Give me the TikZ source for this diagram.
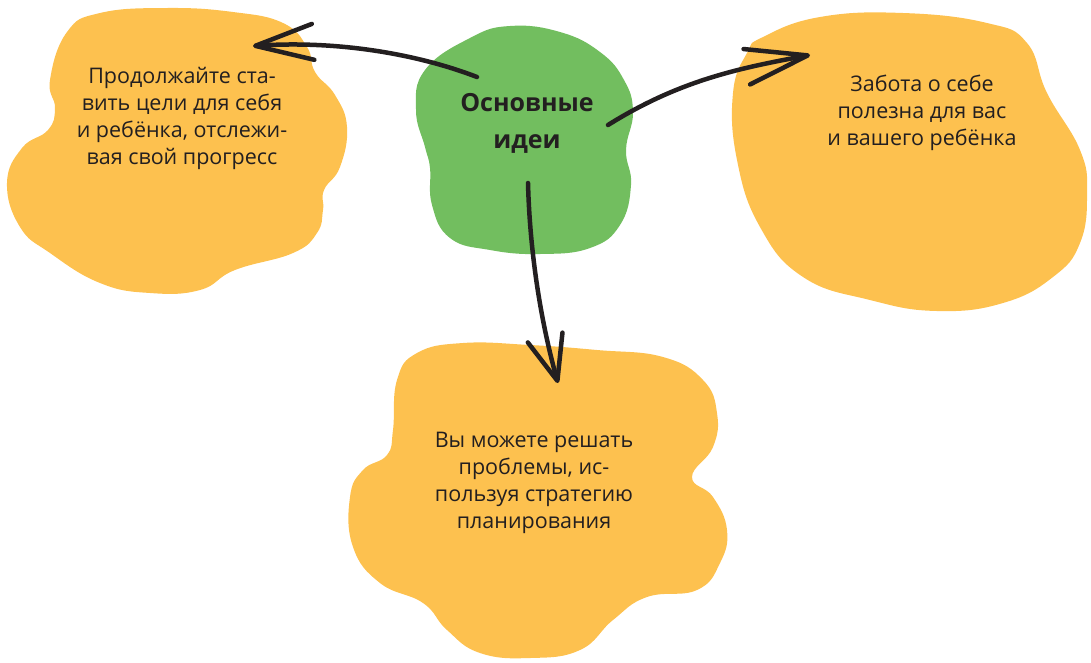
\documentclass[tikz,border=0pt]{standalone}
\usepackage{fontspec}
\setmainfont{Open Sans}
\usetikzlibrary{arrows.meta}
\definecolor{blobyellow}{HTML}{FDC14F}
\definecolor{blobgreen}{HTML}{72BE5F}
\definecolor{ink}{HTML}{231F20}
\tikzset{
  bodytext/.style={align=center, text=ink, font=\fontsize{21.5}{27}\selectfont, inner sep=0pt},
  titletext/.style={align=center, text=ink, font=\fontsize{25}{37}\selectfont\bfseries, inner sep=0pt},
  handarrow/.style={draw=ink, line width=4.5pt, line cap=round,
    -{Straight Barb[length=#1, width=36pt, round]}},
}
\begin{document}
\begin{tikzpicture}[x=1pt,y=-1pt]
\useasboundingbox (0,0) rectangle (1091,662);
% blobs
\fill[blobyellow] plot[smooth cycle, tension=0.75] coordinates {
 (50,80) (67,32) (100,13) (167,8) (233,12) (283,23) (307,47) (315,72)
 (335,95) (347,127) (340,167) (324,190) (323,210) (317,233) (293,253) (235,270)
 (200,290) (150,293) (100,283) (50,253) (20,227) (7,183) (22,148) (48,130) (55,108)};
\fill[blobyellow] plot[smooth cycle, tension=0.75] coordinates {
 (763,37) (820,17) (903,13) (987,23) (1027,43) (1047,93) (1080,150) (1087,193)
 (1080,243) (1053,277) (1003,303) (937,311) (870,300) (803,277) (760,227) (737,160)
 (733,93) (747,53)};
\fill[blobyellow] plot[smooth cycle, tension=0.75] coordinates {
 (397,380) (417,353) (463,343) (530,345) (597,350) (663,357) (703,380) (717,413)
 (713,447) (692,477) (713,497) (727,530) (720,563) (697,590) (647,597) (613,620)
 (580,650) (530,658) (480,653) (447,630) (423,603) (380,583) (353,547) (350,497)
 (363,470) (387,455) (393,430)};
\fill[blobgreen] plot[smooth cycle, tension=0.75] coordinates {
 (470,38) (510,26) (560,32) (600,52) (624,80) (633,112) (626,150) (631,185)
 (620,225) (590,248) (540,254) (490,250) (450,238) (432,205) (430,168) (425,147)
 (416,110) (425,70)};
% texts
\node[titletext] (main) at (527,123) {Основные\\идеи};
\node[bodytext] (left) at (182,118) {Продолжайте ста-\\вить цели для себя\\и ребёнка, отслежи-\\вая свой прогресс};
\node[bodytext] (right) at (922,113) {Забота о себе\\полезна для вас\\и вашего ребёнка};
\node[bodytext] (bottom) at (534,483) {Вы можете решать\\проблемы, ис-\\пользуя стратегию\\планирования};
% connector ends
\coordinate (sL) at (477,77);
\coordinate (tL) at (253,46);
\coordinate (sR) at (608,125);
\coordinate (tR) at (810,55);
\coordinate (sB) at (528,183);
\coordinate (tB) at (558,383);
\draw[handarrow=58pt] (sL) .. controls (420,55) and (340,40) .. (tL);
\draw[handarrow=62pt] (sR) .. controls (680,80) and (740,68) .. (tR);
\draw[handarrow=45pt] (sB) .. controls (530,260) and (543,330) .. (tB);
\end{tikzpicture}
\end{document}
